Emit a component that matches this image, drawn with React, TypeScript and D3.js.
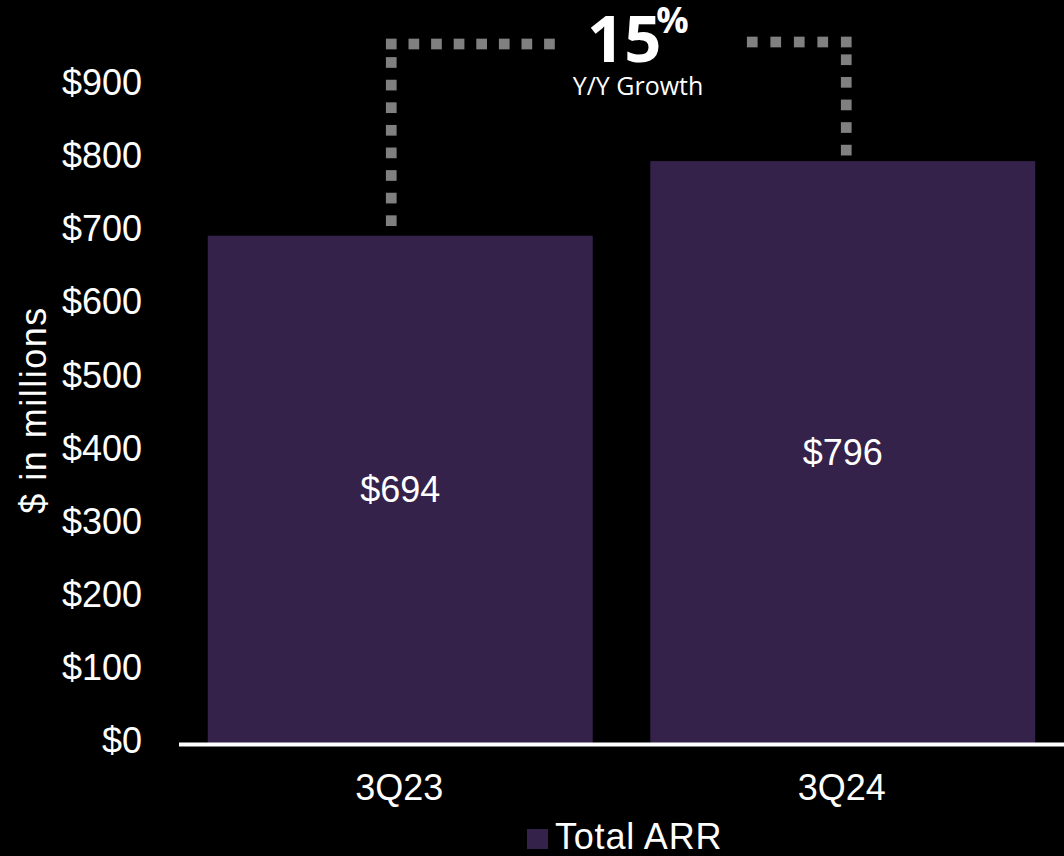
import React from "react";
import * as d3 from "d3";

const categories = ["3Q23", "3Q24"];
const values = [694, 796];
const valueLabels = ["$694", "$796"];
const yTicks = [0, 100, 200, 300, 400, 500, 600, 700, 800, 900];
const seriesName = "Total ARR";
const growthLabel = "15";
const growthSuffix = "%";
const growthCaption = "Y/Y Growth";
const yTitle = "$ in millions";

const W = 1064;
const H = 856;
const BAR = "#35224a";
const DOT = "#808080";
const FONT = "'Liberation Sans', Arial, sans-serif";

export default function App() {
  const x = d3
    .scaleBand<string>()
    .domain(categories)
    .range([179, 1064])
    .paddingInner(0.13)
    .paddingOuter(0.065);
  const y = d3.scaleLinear().domain([0, 1000]).range([743, 743 - 731]);

  const bw = x.bandwidth();
  const c0 = (x(categories[0]) as number) + bw / 2;
  const c1 = (x(categories[1]) as number) + bw / 2;

  // dotted bracket squares
  const sq = 10.7;
  const topY = 44;
  const leftX = c0 - 9;
  const rightX = c1 + 3.5;
  const step = 22.6;
  const squares: [number, number][] = [];
  for (let k = 0; k < 8; k++) squares.push([leftX + k * step, topY]);
  const leftBottom = y(values[0]) - 15;
  for (let yy = leftBottom; yy > topY + 15; yy -= step) squares.push([leftX, yy]);
  for (let k = 0; k < 5; k++) squares.push([rightX - k * 23.5, topY - 2]);
  const rightBottom = y(values[1]) - 11;
  for (let yy = rightBottom; yy > topY + 12; yy -= step) squares.push([rightX, yy]);

  return (
    <svg width={W} height={H} style={{ display: "block", position: "absolute", left: 0, top: 0 }}>
      <rect x={0} y={0} width={W} height={H} fill="#000" />
      {categories.map((c, i) => (
        <rect
          key={c}
          x={x(c) as number}
          y={y(values[i])}
          width={bw}
          height={y(0) - y(values[i])}
          fill={BAR}
        />
      ))}
      <line x1={179} x2={W} y1={y(0) + 1.5} y2={y(0) + 1.5} stroke="#fff" strokeWidth={4} />
      {yTicks.map((t) => (
        <text
          key={t}
          x={142}
          y={y(t) + 10}
          textAnchor="end"
          fill="#fff"
          fontFamily={FONT}
          fontSize={36}
        >
          {"$" + d3.format(",")(t)}
        </text>
      ))}
      <text
        transform={`translate(46, 410) rotate(-90)`}
        textAnchor="middle"
        fill="#fff"
        fontFamily={FONT}
        fontSize={36}
        letterSpacing={1.5}
      >
        {yTitle}
      </text>
      {categories.map((c) => (
        <text
          key={c}
          x={(x(c) as number) + bw / 2 - 1}
          y={800}
          textAnchor="middle"
          fill="#fff"
          fontFamily={FONT}
          fontSize={36}
        >
          {c}
        </text>
      ))}
      {categories.map((c, i) => (
        <text
          key={c}
          x={(x(c) as number) + bw / 2}
          y={(y(values[i]) + y(0)) / 2 + 12.5}
          textAnchor="middle"
          fill="#fff"
          fontFamily={FONT}
          fontSize={36}
        >
          {valueLabels[i]}
        </text>
      ))}
      {squares.map(([sx, sy], i) => (
        <rect key={i} x={sx - sq / 2} y={sy - sq / 2} width={sq} height={sq} fill={DOT} />
      ))}
      <text
        x={587}
        y={62}
        fill="#fff"
        fontFamily="'Open Sans', sans-serif"
        fontWeight={700}
        fontSize={65}
      >
        {growthLabel}
        <tspan dx={-5} dy={-29} fontSize={36}>
          {growthSuffix}
        </tspan>
      </text>
      <text
        x={638}
        y={95}
        textAnchor="middle"
        fill="#fff"
        fontFamily="'Open Sans', sans-serif"
        fontSize={25}
      >
        {growthCaption}
      </text>
      <rect x={527} y={829} width={21} height={20} fill={BAR} />
      <text x={555} y={849} fill="#fff" fontFamily={FONT} fontSize={36} letterSpacing={0.8}>
        {seriesName}
      </text>
    </svg>
  );
}
